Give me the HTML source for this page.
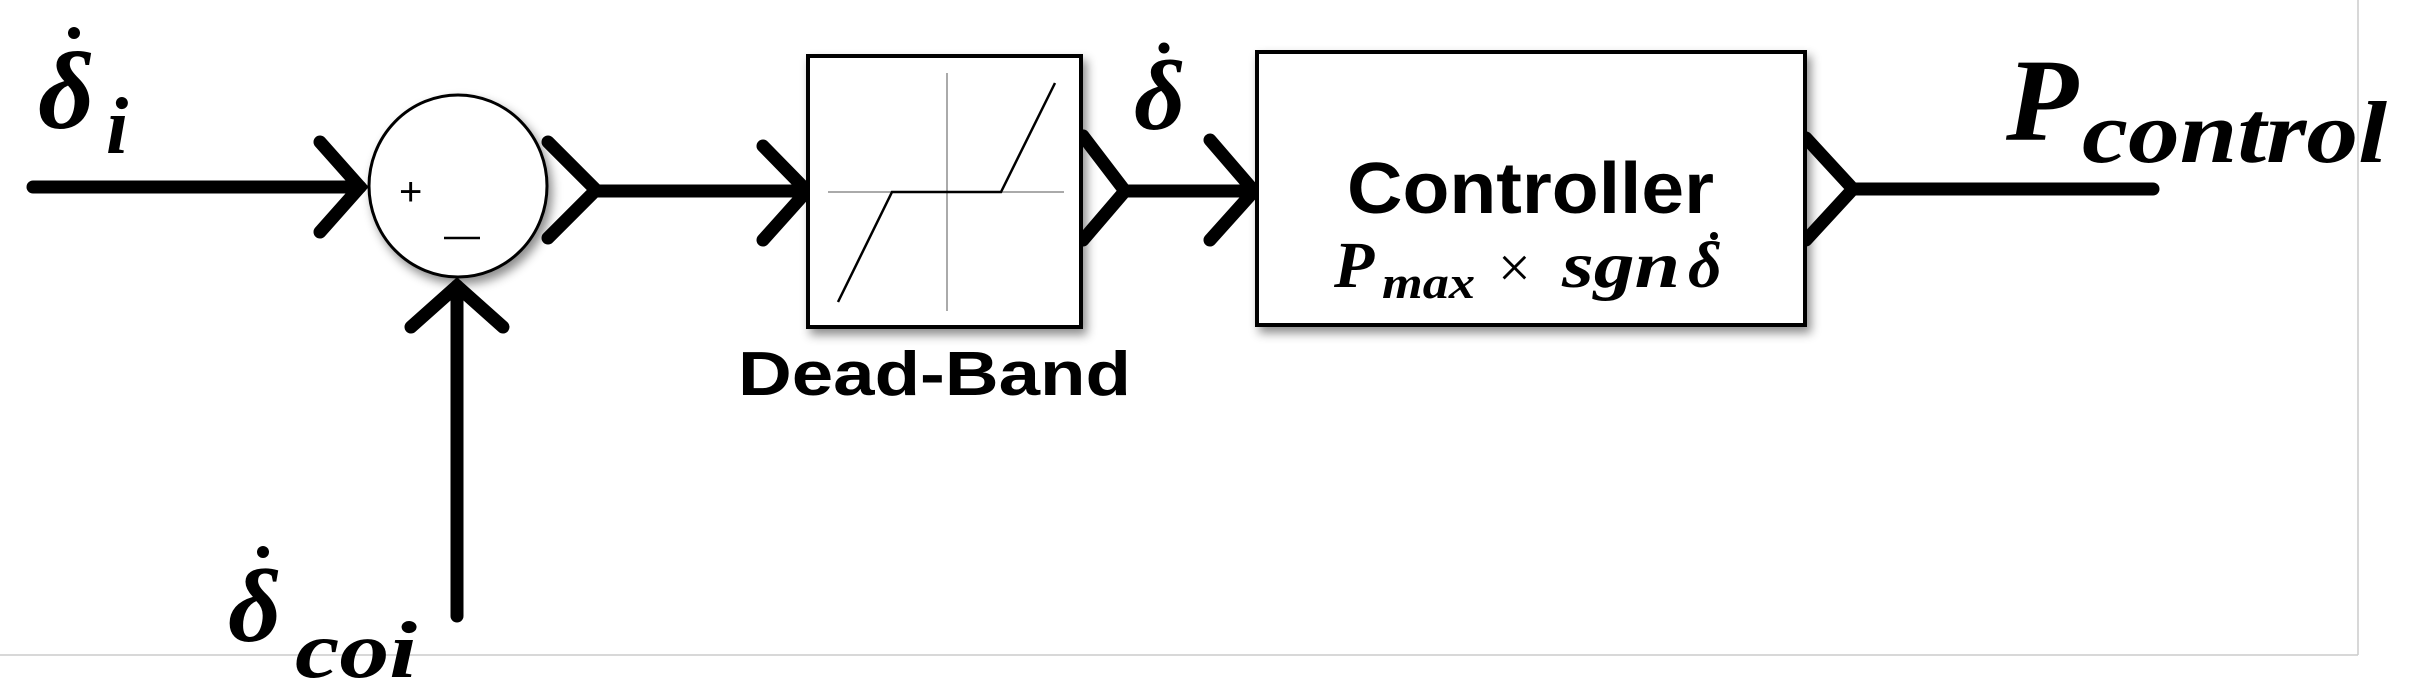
<!DOCTYPE html>
<html><head><meta charset="utf-8"><style>
html,body{margin:0;padding:0;background:#fff;}
svg{display:block;}
.m{font-family:"Liberation Serif",serif;font-style:italic;font-weight:bold;fill:#000;}
.s{font-family:"Liberation Sans",sans-serif;font-weight:bold;fill:#000;}
</style></head><body>
<svg width="2413" height="696" viewBox="0 0 2413 696" xmlns="http://www.w3.org/2000/svg">
<defs>
<filter id="sh" x="-10%" y="-10%" width="130%" height="130%"><feDropShadow dx="4" dy="6" stdDeviation="5" flood-color="#000" flood-opacity="0.45"/></filter>
</defs>
<line x1="0" y1="655" x2="2358" y2="655" stroke="#ccc" stroke-width="1.5"/>
<line x1="2358" y1="0" x2="2358" y2="655" stroke="#ccc" stroke-width="1.5"/>
<g stroke="#000" stroke-width="13" stroke-linecap="round" stroke-linejoin="miter" fill="none">
<line x1="33" y1="187" x2="360" y2="187"/>
<polyline points="320,142 360,187 320,232"/>
<polyline points="548,142 596,190 548,238"/>
<line x1="596" y1="191" x2="807" y2="191"/>
<polyline points="763,146 807,191 763,240"/>
<polyline points="1083,136 1125,191 1083,240"/>
<line x1="1125" y1="191" x2="1256" y2="191"/>
<polyline points="1210,140 1254,191 1210,240"/>
<polyline points="1806,138 1853,189 1806,240"/>
<line x1="1853" y1="189" x2="2153" y2="189"/>
<line x1="457" y1="286" x2="457" y2="616"/>
<polyline points="411,327 457,286 503,327"/>
</g>
<ellipse cx="458" cy="186" rx="89" ry="91" fill="#fff" stroke="#000" stroke-width="3" filter="url(#sh)"/>
<text x="399" y="205" font-family="Liberation Sans,sans-serif" font-size="40" fill="#000">+</text>
<line x1="444" y1="238" x2="480" y2="238" stroke="#000" stroke-width="2.5"/>
<rect x="808" y="56" width="273" height="271" fill="#fff" stroke="#000" stroke-width="4" filter="url(#sh)"/>
<line x1="828" y1="192" x2="1064" y2="192" stroke="#aaa" stroke-width="2"/>
<line x1="947" y1="73" x2="947" y2="311" stroke="#aaa" stroke-width="2"/>
<polyline points="838,302 892,192 1001,192 1055,83" fill="none" stroke="#000" stroke-width="2.5"/>
<rect x="1257" y="52" width="548" height="273" fill="#fff" stroke="#000" stroke-width="4" filter="url(#sh)"/>
<text class="s" x="738" y="395" font-size="62" textLength="393" lengthAdjust="spacingAndGlyphs">Dead-Band</text>
<text class="s" x="1347" y="213" font-size="72" textLength="367" lengthAdjust="spacingAndGlyphs">Controller</text>
<text class="m" x="1334" y="287" font-size="66">P</text>
<text class="m" x="1382" y="298" font-size="46" textLength="93" lengthAdjust="spacingAndGlyphs">max</text>
<text x="1498" y="287" font-family="Liberation Serif,serif" font-size="58" fill="#000">×</text>
<text class="m" x="1562" y="287" font-size="66" textLength="118" lengthAdjust="spacingAndGlyphs">sgn</text>
<text class="m" x="1688" y="287" font-size="66">δ</text>
<circle cx="1714" cy="236" r="4" fill="#000"/>
<text class="m" x="38" y="128" font-size="110">δ</text>
<circle cx="74" cy="33" r="6" fill="#000"/>
<text class="m" x="106" y="153" font-size="80">i</text>
<text class="m" x="1134" y="129" font-size="100">δ</text>
<circle cx="1164" cy="48" r="5.5" fill="#000"/>
<text class="m" x="228" y="641" font-size="104">δ</text>
<circle cx="263" cy="552" r="6" fill="#000"/>
<text class="m" x="295" y="677" font-size="80" textLength="122" lengthAdjust="spacingAndGlyphs">coi</text>
<text class="m" x="2006" y="140" font-size="118">P</text>
<text class="m" x="2082" y="162" font-size="88" textLength="305" lengthAdjust="spacingAndGlyphs">control</text>
</svg>
</body></html>
